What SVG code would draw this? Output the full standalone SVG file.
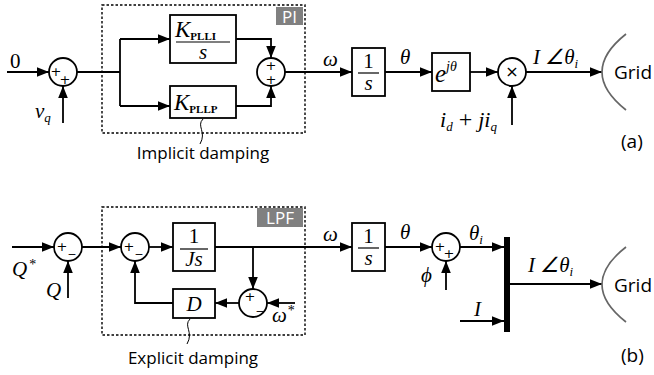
<svg xmlns="http://www.w3.org/2000/svg" width="654" height="375" viewBox="0 0 654 375">
<defs>
<marker id="ar" viewBox="0 0 10 8" refX="10" refY="4" markerWidth="12" markerHeight="10" markerUnits="userSpaceOnUse" orient="auto"><path d="M0,0 L10,4 L0,8 z" fill="#000"/></marker>
<style>
.ln{stroke:#000;stroke-width:1.8;fill:none}
.ar{marker-end:url(#ar)}
.box{fill:#fff;stroke:#000;stroke-width:1.8}
.sum{fill:#fff;stroke:#000;stroke-width:1.8}
.dash{fill:none;stroke:#000;stroke-width:1.4;stroke-dasharray:2.5,2}
.m{font-family:"Liberation Serif",serif;font-style:italic;font-size:21px;fill:#000}
.r{font-family:"Liberation Serif",serif;font-size:21px;fill:#000}
.sub{font-size:13px}
.subr{font-family:"Liberation Serif",serif;font-style:normal;font-weight:bold;font-size:11px}
.st{font-family:"Liberation Serif",serif;font-style:normal;font-size:14px}
.sg{font-family:"DejaVu Sans",sans-serif;font-size:13px;fill:#000;text-anchor:middle}
.s{font-family:"Open Sans",sans-serif;font-size:17px;fill:#000}
.tag{fill:#808080}
.tagt{font-family:"Open Sans",sans-serif;font-size:17px;fill:#fff;text-anchor:middle}
.grid{fill:none;stroke:#666;stroke-width:1.7}
</style>
</defs>

<g id="connectors">
<path class="ln ar" d="M7 72 H49"/>
<path class="ln ar" d="M63 123 V86"/>
<path class="ln" d="M77 72 H120 M120 39 V106"/>
<path class="ln ar" d="M120 39 H170"/>
<path class="ln ar" d="M120 106 H170"/>
<path class="ln ar" d="M236 39 H271 V58"/>
<path class="ln ar" d="M236 106 H271 V86"/>
<path class="ln ar" d="M285 72 H352"/>
<path class="ln ar" d="M385 72 H432"/>
<path class="ln ar" d="M470 72 H498"/>
<path class="ln ar" d="M512 125 V86"/>
<path class="ln ar" d="M526 72 H602"/>

<path class="ln ar" d="M12 247 H54"/>
<path class="ln ar" d="M68 298 V261"/>
<path class="ln ar" d="M82 247 H121"/>
<path class="ln ar" d="M149 247 H173"/>
<path class="ln ar" d="M215 247 H352"/>
<path class="ln ar" d="M253 247 V289"/>
<path class="ln ar" d="M295 303 H267"/>
<path class="ln ar" d="M239 303 H215"/>
<path class="ln ar" d="M173 303 H135 V261"/>
<path class="ln ar" d="M385 247 H432"/>
<path class="ln ar" d="M446 290 V261"/>
<path class="ln ar" d="M460 247 H504"/>
<path class="ln ar" d="M460 321 H504"/>
<path class="ln ar" d="M510 284 H602"/>
<path class="ln" d="M203 119 C196 126 207 132 200 144" style="stroke-width:1"/>
<path class="ln" d="M190 319 C183 326 194 332 187 344" style="stroke-width:1"/>
</g>

<g id="pi-frame">
<rect class="dash" x="102" y="5" width="203" height="128"/>
<rect class="tag" x="276" y="7" width="27" height="18"/>
<text class="tagt" x="289.5" y="22.5">PI</text>
<text class="s" x="203" y="159" text-anchor="middle">Implicit damping</text>
</g>

<g id="lpf-frame">
<rect class="dash" x="102" y="207" width="203" height="128"/>
<rect class="tag" x="257" y="208" width="46" height="19"/>
<text class="tagt" x="280" y="224">LPF</text>
<text class="s" x="193" y="364" text-anchor="middle">Explicit damping</text>
</g>

<g id="in0"><text class="r" x="10" y="68">0</text></g>
<g id="vq"><text class="m" x="35" y="118">v<tspan class="sub" dy="4">q</tspan></text></g>
<g id="sum-a1"><circle class="sum" cx="63" cy="72" r="14"/><text class="sg" x="56" y="76">+</text><text class="sg" x="65" y="84">+</text></g>
<g id="kplli"><rect class="box" x="170" y="15" width="66" height="48"/>
<text class="m" x="175" y="37" style="font-size:23px">K<tspan class="subr" dy="3">PLLI</tspan></text>
<line x1="176" y1="42" x2="230" y2="42" stroke="#000" stroke-width="1.2"/>
<text class="m" x="203" y="59" text-anchor="middle">s</text></g>
<g id="kpllp"><rect class="box" x="170" y="86" width="66" height="32"/>
<text class="m" x="174" y="110" style="font-size:23px">K<tspan class="subr" dy="3">PLLP</tspan></text></g>
<g id="sum-a2"><circle class="sum" cx="271" cy="72" r="14"/><text class="sg" x="271" y="70">+</text><text class="sg" x="271" y="84">+</text></g>
<g id="omega-a"><text class="m" x="323" y="66">ω</text></g>
<g id="int-a"><rect class="box" x="352" y="48" width="33" height="48"/>
<text class="r" x="368.5" y="68" text-anchor="middle">1</text>
<line x1="358" y1="73" x2="379" y2="73" stroke="#000" stroke-width="1.2"/>
<text class="m" x="368.5" y="90" text-anchor="middle">s</text></g>
<g id="theta-a"><text class="m" x="400" y="64">θ</text></g>
<g id="exp"><rect class="box" x="432" y="53" width="38" height="38"/>
<text class="m" x="435" y="82" style="font-size:25px">e<tspan style="font-size:14px" dy="-11">jθ</tspan></text></g>
<g id="mult"><circle class="sum" cx="512" cy="72" r="14"/><text class="sg" x="512" y="77" style="font-size:16px">×</text></g>
<g id="idq"><text class="m" x="440" y="127" style="font-size:22px">i<tspan class="sub" dy="4">d</tspan><tspan class="r" dy="-4" style="font-style:normal;font-size:24px"> + </tspan>ji<tspan class="sub" dy="4">q</tspan></text></g>
<g id="iang-a"><text class="m" x="533" y="64">I ∠θ<tspan class="sub" dy="4">i</tspan></text></g>
<g id="grid-a"><path class="grid" d="M626 34 Q578 72 626 110"/><text class="s" x="614" y="79" style="font-size:19px">Grid</text></g>
<g id="lab-a"><text class="s" x="621" y="148" style="font-size:19px">(a)</text></g>

<g id="qstar"><text class="m" x="12" y="276">Q<tspan class="st" dy="-7" dx="2">*</tspan></text></g>
<g id="q"><text class="m" x="46" y="297">Q</text></g>
<g id="sum-b1"><circle class="sum" cx="68" cy="247" r="14"/><text class="sg" x="62" y="251">+</text><text class="sg" x="72" y="252">_</text></g>
<g id="sum-b2"><circle class="sum" cx="135" cy="247" r="14"/><text class="sg" x="129" y="251">+</text><text class="sg" x="139" y="252">_</text></g>
<g id="inertia"><rect class="box" x="173" y="223" width="42" height="48"/>
<text class="r" x="194" y="243" text-anchor="middle">1</text>
<line x1="180" y1="249" x2="208" y2="249" stroke="#000" stroke-width="1.2"/>
<text class="m" x="194" y="266" text-anchor="middle">Js</text></g>
<g id="damp"><rect class="box" x="173" y="289" width="42" height="29"/>
<text class="m" x="194" y="311" text-anchor="middle">D</text></g>
<g id="sum-b3"><circle class="sum" cx="253" cy="303" r="14"/><text class="sg" x="250" y="301">+</text><text class="sg" x="260" y="309">_</text></g>
<g id="omstar"><text class="m" x="272" y="322">ω<tspan class="st" dy="-7" dx="1">*</tspan></text></g>
<g id="omega-b"><text class="m" x="323" y="241">ω</text></g>
<g id="int-b"><rect class="box" x="352" y="223" width="33" height="48"/>
<text class="r" x="368.5" y="243" text-anchor="middle">1</text>
<line x1="358" y1="248" x2="379" y2="248" stroke="#000" stroke-width="1.2"/>
<text class="m" x="368.5" y="265" text-anchor="middle">s</text></g>
<g id="theta-b"><text class="m" x="400" y="239">θ</text></g>
<g id="sum-b4"><circle class="sum" cx="446" cy="247" r="14"/><text class="sg" x="440" y="251">+</text><text class="sg" x="449" y="258">+</text></g>
<g id="phi"><text class="m" x="421" y="282">ϕ</text></g>
<g id="thetai"><text class="m" x="469" y="240">θ<tspan class="sub" dy="4">i</tspan></text></g>
<g id="bar"><rect x="504" y="237" width="6" height="95" fill="#000"/></g>
<g id="iin"><text class="m" x="474" y="316">I</text></g>
<g id="iang-b"><text class="m" x="528" y="272">I ∠θ<tspan class="sub" dy="4">i</tspan></text></g>
<g id="grid-b"><path class="grid" d="M626 247 Q578 284.5 626 322"/><text class="s" x="614" y="292" style="font-size:19px">Grid</text></g>
<g id="lab-b"><text class="s" x="621" y="362" style="font-size:19px">(b)</text></g>
</svg>
